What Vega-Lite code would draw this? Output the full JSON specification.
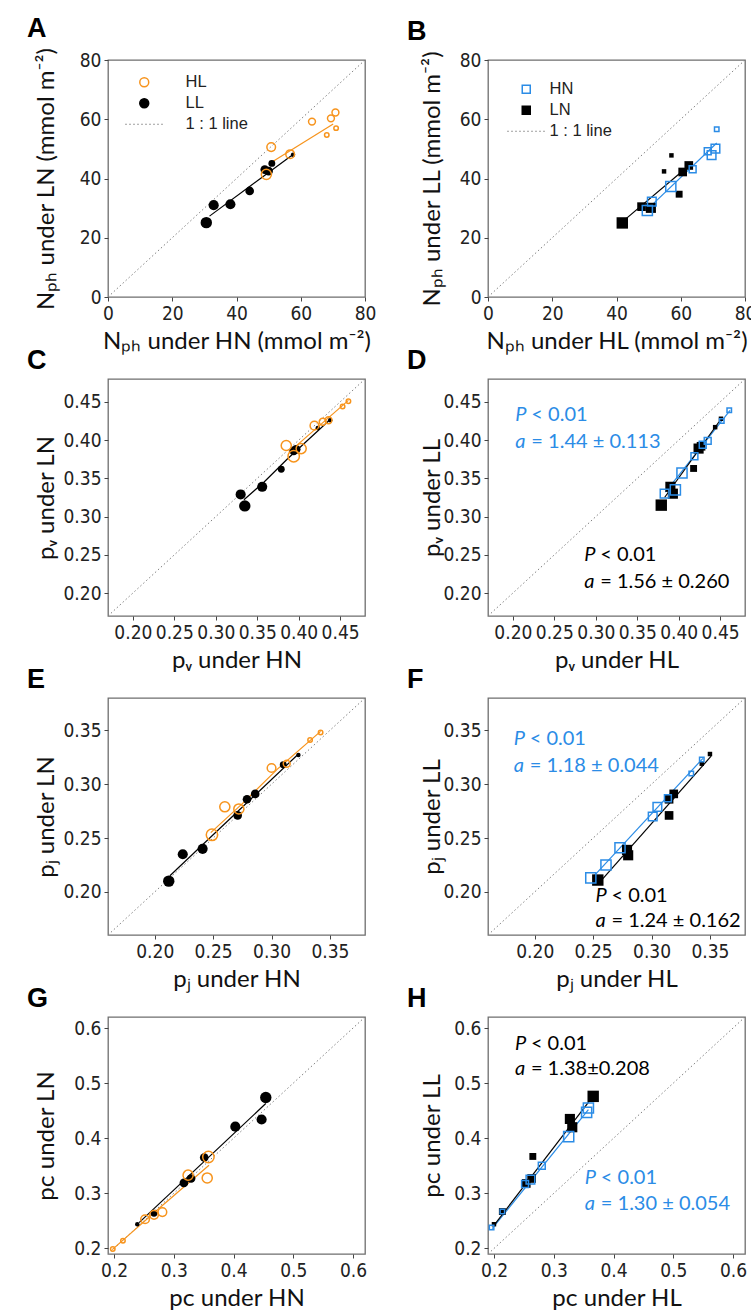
{
"$schema": "https://vega.github.io/schema/vega-lite/v6.json",
"background": "white",
"padding": {"left": 26, "top": 14, "right": 0, "bottom": 0},
"datasets": {
"pts": [
{"p":"A","g":"HL","x":70.8,"y":62.3,"s":2},{"p":"A","g":"HL","x":69.4,"y":60.3,"s":2},{"p":"A","g":"HL","x":63.5,"y":59.2,"s":2},{"p":"A","g":"HL","x":71.0,"y":57.0,"s":1},{"p":"A","g":"HL","x":68.1,"y":54.7,"s":1},{"p":"A","g":"HL","x":50.8,"y":50.6,"s":3},{"p":"A","g":"HL","x":56.7,"y":48.2,"s":3},{"p":"A","g":"HL","x":49.3,"y":41.4,"s":4},
{"p":"A","g":"LL","x":57.6,"y":48.0,"s":1},{"p":"A","g":"LL","x":51.0,"y":45.1,"s":2},{"p":"A","g":"LL","x":48.8,"y":43.0,"s":3},{"p":"A","g":"LL","x":50.0,"y":42.5,"s":3},{"p":"A","g":"LL","x":44.1,"y":35.8,"s":3},{"p":"A","g":"LL","x":38.1,"y":31.3,"s":4},{"p":"A","g":"LL","x":32.9,"y":31.0,"s":4},{"p":"A","g":"LL","x":30.6,"y":25.1,"s":5},
{"p":"B","g":"HN","x":71.2,"y":56.6,"s":1},{"p":"B","g":"HN","x":70.8,"y":50.1,"s":3},{"p":"B","g":"HN","x":69.6,"y":47.9,"s":3},{"p":"B","g":"HN","x":68.4,"y":49.2,"s":2},{"p":"B","g":"HN","x":63.7,"y":43.1,"s":2},{"p":"B","g":"HN","x":56.9,"y":37.3,"s":4},{"p":"B","g":"HN","x":51.0,"y":32.2,"s":3},{"p":"B","g":"HN","x":49.6,"y":29.2,"s":4},
{"p":"B","g":"LN","x":57.1,"y":47.8,"s":1},{"p":"B","g":"LN","x":54.8,"y":42.4,"s":1},{"p":"B","g":"LN","x":62.5,"y":44.4,"s":3},{"p":"B","g":"LN","x":60.6,"y":42.2,"s":3},{"p":"B","g":"LN","x":59.5,"y":34.7,"s":2},{"p":"B","g":"LN","x":47.8,"y":30.5,"s":3},{"p":"B","g":"LN","x":50.7,"y":30.1,"s":4},{"p":"B","g":"LN","x":41.8,"y":25.0,"s":5},
{"p":"C","g":"HL","x":0.460,"y":0.451,"s":1},{"p":"C","g":"HL","x":0.453,"y":0.444,"s":1},{"p":"C","g":"HL","x":0.436,"y":0.426,"s":2},{"p":"C","g":"HL","x":0.429,"y":0.424,"s":2},{"p":"C","g":"HL","x":0.419,"y":0.419,"s":3},{"p":"C","g":"HL","x":0.385,"y":0.393,"s":4},{"p":"C","g":"HL","x":0.403,"y":0.389,"s":4},{"p":"C","g":"HL","x":0.394,"y":0.379,"s":5},
{"p":"C","g":"LL","x":0.438,"y":0.426,"s":1},{"p":"C","g":"LL","x":0.423,"y":0.416,"s":1},{"p":"C","g":"LL","x":0.397,"y":0.388,"s":3},{"p":"C","g":"LL","x":0.394,"y":0.386,"s":3},{"p":"C","g":"LL","x":0.379,"y":0.362,"s":2},{"p":"C","g":"LL","x":0.356,"y":0.339,"s":4},{"p":"C","g":"LL","x":0.330,"y":0.329,"s":4},{"p":"C","g":"LL","x":0.335,"y":0.314,"s":5},
{"p":"D","g":"HN","x":0.461,"y":0.439,"s":1},{"p":"D","g":"HN","x":0.452,"y":0.425,"s":1},{"p":"D","g":"HN","x":0.435,"y":0.399,"s":2},{"p":"D","g":"HN","x":0.429,"y":0.394,"s":2},{"p":"D","g":"HN","x":0.419,"y":0.379,"s":2},{"p":"D","g":"HN","x":0.404,"y":0.357,"s":4},{"p":"D","g":"HN","x":0.396,"y":0.335,"s":4},{"p":"D","g":"HN","x":0.383,"y":0.330,"s":3},
{"p":"D","g":"LN","x":0.451,"y":0.428,"s":1},{"p":"D","g":"LN","x":0.444,"y":0.417,"s":1},{"p":"D","g":"LN","x":0.424,"y":0.389,"s":4},{"p":"D","g":"LN","x":0.427,"y":0.392,"s":3},{"p":"D","g":"LN","x":0.418,"y":0.363,"s":2},{"p":"D","g":"LN","x":0.390,"y":0.339,"s":4},{"p":"D","g":"LN","x":0.393,"y":0.330,"s":4},{"p":"D","g":"LN","x":0.379,"y":0.315,"s":5},
{"p":"E","g":"HL","x":0.342,"y":0.348,"s":1},{"p":"E","g":"HL","x":0.333,"y":0.341,"s":1},{"p":"E","g":"HL","x":0.313,"y":0.319,"s":2},{"p":"E","g":"HL","x":0.300,"y":0.315,"s":3},{"p":"E","g":"HL","x":0.260,"y":0.279,"s":4},{"p":"E","g":"HL","x":0.272,"y":0.277,"s":4},{"p":"E","g":"HL","x":0.249,"y":0.253,"s":5},
{"p":"E","g":"LL","x":0.323,"y":0.327,"s":1},{"p":"E","g":"LL","x":0.310,"y":0.318,"s":2},{"p":"E","g":"LL","x":0.286,"y":0.291,"s":3},{"p":"E","g":"LL","x":0.279,"y":0.286,"s":3},{"p":"E","g":"LL","x":0.271,"y":0.271,"s":3},{"p":"E","g":"LL","x":0.241,"y":0.240,"s":4},{"p":"E","g":"LL","x":0.224,"y":0.235,"s":4},{"p":"E","g":"LL","x":0.212,"y":0.210,"s":5},
{"p":"F","g":"HN","x":0.343,"y":0.323,"s":1},{"p":"F","g":"HN","x":0.334,"y":0.310,"s":1},{"p":"F","g":"HN","x":0.314,"y":0.287,"s":2},{"p":"F","g":"HN","x":0.305,"y":0.279,"s":3},{"p":"F","g":"HN","x":0.301,"y":0.270,"s":3},{"p":"F","g":"HN","x":0.273,"y":0.241,"s":4},{"p":"F","g":"HN","x":0.261,"y":0.225,"s":4},{"p":"F","g":"HN","x":0.248,"y":0.213,"s":4},
{"p":"F","g":"LN","x":0.350,"y":0.328,"s":1},{"p":"F","g":"LN","x":0.343,"y":0.319,"s":1},{"p":"F","g":"LN","x":0.319,"y":0.291,"s":3},{"p":"F","g":"LN","x":0.315,"y":0.286,"s":3},{"p":"F","g":"LN","x":0.315,"y":0.271,"s":3},{"p":"F","g":"LN","x":0.279,"y":0.239,"s":4},{"p":"F","g":"LN","x":0.280,"y":0.234,"s":4},{"p":"F","g":"LN","x":0.254,"y":0.211,"s":5},
{"p":"G","g":"HL","x":0.198,"y":0.199,"s":1},{"p":"G","g":"HL","x":0.215,"y":0.214,"s":1},{"p":"G","g":"HL","x":0.252,"y":0.253,"s":3},{"p":"G","g":"HL","x":0.267,"y":0.261,"s":3},{"p":"G","g":"HL","x":0.281,"y":0.266,"s":3},{"p":"G","g":"HL","x":0.324,"y":0.333,"s":4},{"p":"G","g":"HL","x":0.356,"y":0.328,"s":4},{"p":"G","g":"HL","x":0.358,"y":0.366,"s":5},
{"p":"G","g":"LL","x":0.239,"y":0.244,"s":1},{"p":"G","g":"LL","x":0.267,"y":0.264,"s":2},{"p":"G","g":"LL","x":0.317,"y":0.319,"s":3},{"p":"G","g":"LL","x":0.329,"y":0.327,"s":3},{"p":"G","g":"LL","x":0.351,"y":0.365,"s":3},{"p":"G","g":"LL","x":0.403,"y":0.421,"s":4},{"p":"G","g":"LL","x":0.447,"y":0.434,"s":4},{"p":"G","g":"LL","x":0.454,"y":0.474,"s":5},
{"p":"H","g":"HN","x":0.196,"y":0.238,"s":1},{"p":"H","g":"HN","x":0.214,"y":0.267,"s":1},{"p":"H","g":"HN","x":0.252,"y":0.317,"s":2},{"p":"H","g":"HN","x":0.261,"y":0.325,"s":3},{"p":"H","g":"HN","x":0.280,"y":0.350,"s":2},{"p":"H","g":"HN","x":0.325,"y":0.403,"s":4},{"p":"H","g":"HN","x":0.355,"y":0.447,"s":4},{"p":"H","g":"HN","x":0.358,"y":0.455,"s":4},
{"p":"H","g":"LN","x":0.200,"y":0.244,"s":1},{"p":"H","g":"LN","x":0.214,"y":0.267,"s":2},{"p":"H","g":"LN","x":0.254,"y":0.318,"s":3},{"p":"H","g":"LN","x":0.263,"y":0.327,"s":3},{"p":"H","g":"LN","x":0.265,"y":0.367,"s":2},{"p":"H","g":"LN","x":0.327,"y":0.435,"s":4},{"p":"H","g":"LN","x":0.331,"y":0.420,"s":4},{"p":"H","g":"LN","x":0.366,"y":0.476,"s":5}
],
"fits": [
{"p":"A","g":"HL","x":50.8,"y":45.4},{"p":"A","g":"HL","x":70.1,"y":58.4},
{"p":"A","g":"LL","x":31.6,"y":27.3},{"p":"A","g":"LL","x":57.6,"y":48.1},
{"p":"B","g":"HN","x":49.6,"y":29.6},{"p":"B","g":"HN","x":71.2,"y":52.0},
{"p":"B","g":"LN","x":42.8,"y":26.3},{"p":"B","g":"LN","x":62.7,"y":44.5},
{"p":"C","g":"HL","x":0.388,"y":0.384},{"p":"C","g":"HL","x":0.460,"y":0.452},
{"p":"C","g":"LL","x":0.334,"y":0.322},{"p":"C","g":"LL","x":0.358,"y":0.345},{"p":"C","g":"LL","x":0.386,"y":0.375},{"p":"C","g":"LL","x":0.438,"y":0.427},
{"p":"D","g":"HN","x":0.384,"y":0.332},{"p":"D","g":"HN","x":0.462,"y":0.439},
{"p":"D","g":"LN","x":0.383,"y":0.325},{"p":"D","g":"LN","x":0.452,"y":0.429},
{"p":"E","g":"HL","x":0.248,"y":0.255},{"p":"E","g":"HL","x":0.275,"y":0.282},{"p":"E","g":"HL","x":0.305,"y":0.314},{"p":"E","g":"HL","x":0.342,"y":0.349},
{"p":"E","g":"LL","x":0.213,"y":0.215},{"p":"E","g":"LL","x":0.323,"y":0.328},
{"p":"F","g":"HN","x":0.250,"y":0.214},{"p":"F","g":"HN","x":0.344,"y":0.324},
{"p":"F","g":"LN","x":0.254,"y":0.207},{"p":"F","g":"LN","x":0.351,"y":0.326},
{"p":"G","g":"HL","x":0.197,"y":0.198},{"p":"G","g":"HL","x":0.281,"y":0.278},{"p":"G","g":"HL","x":0.359,"y":0.351},
{"p":"G","g":"LL","x":0.242,"y":0.247},{"p":"G","g":"LL","x":0.454,"y":0.463},
{"p":"H","g":"HN","x":0.197,"y":0.236},{"p":"H","g":"HN","x":0.358,"y":0.452},
{"p":"H","g":"LN","x":0.200,"y":0.242},{"p":"H","g":"LN","x":0.365,"y":0.475}
],
"diag": [
{"p":"A","x":0,"y":0},{"p":"A","x":80,"y":80},
{"p":"B","x":0,"y":0},{"p":"B","x":80,"y":80},
{"p":"C","x":0.17,"y":0.17},{"p":"C","x":0.48,"y":0.48},
{"p":"D","x":0.17,"y":0.17},{"p":"D","x":0.48,"y":0.48},
{"p":"E","x":0.16,"y":0.16},{"p":"E","x":0.38,"y":0.38},
{"p":"F","x":0.16,"y":0.16},{"p":"F","x":0.38,"y":0.38},
{"p":"G","x":0.19,"y":0.19},{"p":"G","x":0.62,"y":0.62},
{"p":"H","x":0.19,"y":0.19},{"p":"H","x":0.62,"y":0.62}
],
"ann": [
{"p":"D","g":"HN","x":0.203,"y":0.433,"lead":"P","rest":"< 0.01"},
{"p":"D","g":"HN","x":0.203,"y":0.398,"lead":"a","rest":"= 1.44 ± 0.113"},
{"p":"D","g":"LN","x":0.286,"y":0.250,"lead":"P","rest":"< 0.01"},
{"p":"D","g":"LN","x":0.286,"y":0.214,"lead":"a","rest":"= 1.56 ± 0.260"},
{"p":"F","g":"HN","x":0.182,"y":0.342,"lead":"P","rest":"< 0.01"},
{"p":"F","g":"HN","x":0.182,"y":0.317,"lead":"a","rest":"= 1.18 ± 0.044"},
{"p":"F","g":"LN","x":0.252,"y":0.196,"lead":"P","rest":"< 0.01"},
{"p":"F","g":"LN","x":0.252,"y":0.173,"lead":"a","rest":"= 1.24 ± 0.162"},
{"p":"H","g":"LN","x":0.235,"y":0.571,"lead":"P","rest":"< 0.01"},
{"p":"H","g":"LN","x":0.235,"y":0.526,"lead":"a","rest":"= 1.38±0.208"},
{"p":"H","g":"HN","x":0.352,"y":0.328,"lead":"P","rest":"< 0.01"},
{"p":"H","g":"HN","x":0.352,"y":0.281,"lead":"a","rest":"= 1.30 ± 0.054"}
]
},
"columns": 2,
"spacing": {"row": -8, "column": 29},
"resolve": {"scale": {"x": "independent", "y": "independent", "color": "independent", "size": "independent"}},
"concat": [
{
"title": "A", "width": 257, "height": 237,
"encoding": {
"x": {"field":"x","type":"quantitative","scale":{"domain":[0,80],"nice":false,"zero":false},"axis":{"values":[0,20,40,60,80],"title":"Nₚₕ under HN (mmol m⁻²)"}},
"y": {"field":"y","type":"quantitative","scale":{"domain":[0,80],"nice":false,"zero":false},"axis":{"values":[0,20,40,60,80],"title":"Nₚₕ under LN (mmol m⁻²)","titleX":-50}},
"color": {"field":"g","type":"nominal","scale":{"domain":["HL","LL","1 : 1 line"],"range":["#F7941D","#000000","#808080"]},
"legend":{"title":null,"orient":"none","legendX":28,"legendY":14,"padding":0,"symbolSize":80,"symbolType":"circle","labelFont":"Liberation Sans","labelFontSize":16.5,"labelColor":"#222222","labelOffset":33,"rowPadding":4,
"encode":{"symbols":{"update":{
"shape":{"signal":"datum.value === '1 : 1 line' ? 'stroke' : 'circle'"},
"size":{"signal":"datum.value === '1 : 1 line' ? 1444 : 80"},
"fill":{"signal":"datum.value === 'LL' ? '#000000' : 'transparent'"},
"fillOpacity":{"signal":"datum.value === 'LL' ? 1 : 0"},
"stroke":{"signal":"datum.value === 'HL' ? '#F7941D' : (datum.value === 'LL' ? '#000000' : '#808080')"},
"strokeOpacity":{"value":1},
"strokeWidth":{"signal":"datum.value === '1 : 1 line' ? 1 : 1.5"},
"strokeDash":{"signal":"datum.value === '1 : 1 line' ? [1.5, 2.5] : []"},
"opacity":{"value":1}}}}}}
},
"layer": [
{"data":{"name":"diag"},"transform":[{"filter":"datum.p === 'A'"}],"mark":{"type":"line","strokeDash":[1.5,2.5],"strokeWidth":1,"clip":true},"encoding":{"color":{"datum":"1 : 1 line","type":"nominal"}}},
{"data":{"name":"fits"},"transform":[{"filter":"datum.p === 'A'"}],"mark":{"type":"line","strokeWidth":1.2}},
{"data":{"name":"pts"},"transform":[{"filter":"datum.p === 'A' && datum.g === 'LL'"}],"mark":{"type":"point","shape":"circle","filled":true,"opacity":1},"encoding":{"size":{"field":"s","type":"quantitative","scale":{"domain":[1,5],"range":[20,130]},"legend":null}}},
{"data":{"name":"pts"},"transform":[{"filter":"datum.p === 'A' && datum.g === 'HL'"}],"mark":{"type":"point","shape":"circle","filled":false,"strokeWidth":1.5,"opacity":1},"encoding":{"size":{"field":"s","type":"quantitative","scale":{"domain":[1,5],"range":[20,130]},"legend":null}}}
]
},
{
"title": "B", "width": 257, "height": 237,
"encoding": {
"x": {"field":"x","type":"quantitative","scale":{"domain":[0,80],"nice":false,"zero":false},"axis":{"values":[0,20,40,60,80],"title":"Nₚₕ under HL (mmol m⁻²)"}},
"y": {"field":"y","type":"quantitative","scale":{"domain":[0,80],"nice":false,"zero":false},"axis":{"values":[0,20,40,60,80],"title":"Nₚₕ under LL (mmol m⁻²)","titleX":-44}},
"color": {"field":"g","type":"nominal","scale":{"domain":["HN","LN","1 : 1 line"],"range":["#2B8CE6","#000000","#808080"]},
"legend":{"title":null,"orient":"none","legendX":30,"legendY":21,"padding":0,"symbolSize":80,"symbolType":"square","labelFont":"Liberation Sans","labelFontSize":16.5,"labelColor":"#222222","labelOffset":15,"rowPadding":4,
"encode":{"symbols":{"update":{
"shape":{"signal":"datum.value === '1 : 1 line' ? 'stroke' : 'square'"},
"size":{"signal":"datum.value === '1 : 1 line' ? 1444 : 64"},
"fill":{"signal":"datum.value === 'LN' ? '#000000' : 'transparent'"},
"fillOpacity":{"signal":"datum.value === 'LN' ? 1 : 0"},
"stroke":{"signal":"datum.value === 'HN' ? '#2B8CE6' : (datum.value === 'LN' ? '#000000' : '#808080')"},
"strokeOpacity":{"value":1},
"strokeWidth":{"signal":"datum.value === '1 : 1 line' ? 1 : 1.5"},
"strokeDash":{"signal":"datum.value === '1 : 1 line' ? [1.5, 2.5] : []"},
"opacity":{"value":1}}}}}}
},
"layer": [
{"data":{"name":"diag"},"transform":[{"filter":"datum.p === 'B'"}],"mark":{"type":"line","strokeDash":[1.5,2.5],"strokeWidth":1,"clip":true},"encoding":{"color":{"datum":"1 : 1 line","type":"nominal"}}},
{"data":{"name":"fits"},"transform":[{"filter":"datum.p === 'B'"}],"mark":{"type":"line","strokeWidth":1.2}},
{"data":{"name":"pts"},"transform":[{"filter":"datum.p === 'B' && datum.g === 'LN'"}],"mark":{"type":"point","shape":"square","filled":true,"opacity":1},"encoding":{"size":{"field":"s","type":"quantitative","scale":{"domain":[1,5],"range":[20,130]},"legend":null}}},
{"data":{"name":"pts"},"transform":[{"filter":"datum.p === 'B' && datum.g === 'HN'"}],"mark":{"type":"point","shape":"square","filled":false,"strokeWidth":1.5,"opacity":1},"encoding":{"size":{"field":"s","type":"quantitative","scale":{"domain":[1,5],"range":[20,130]},"legend":null}}}
]
},
{
"title": "C", "width": 257, "height": 237,
"encoding": {
"x": {"field":"x","type":"quantitative","scale":{"domain":[0.17,0.48],"nice":false,"zero":false},"axis":{"values":[0.2,0.25,0.3,0.35,0.4,0.45],"format":".2f","title":"pᵥ under HN"}},
"y": {"field":"y","type":"quantitative","scale":{"domain":[0.17,0.48],"nice":false,"zero":false},"axis":{"values":[0.2,0.25,0.3,0.35,0.4,0.45],"format":".2f","title":"pᵥ under LN","titleX":-50}}
},
"layer": [
{"data":{"name":"diag"},"transform":[{"filter":"datum.p === 'C'"}],"mark":{"type":"line","color":"#808080","strokeDash":[1.5,2.5],"strokeWidth":1,"clip":true},"encoding":{}},
{"data":{"name":"fits"},"transform":[{"filter":"datum.p === 'C'"}],"mark":{"type":"line","strokeWidth":1.2},"encoding":{"color":{"field":"g","type":"nominal","scale":{"domain":["HL","LL"],"range":["#F7941D","#000000"]},"legend":null}}},
{"data":{"name":"pts"},"transform":[{"filter":"datum.p === 'C' && datum.g === 'LL'"}],"mark":{"type":"point","shape":"circle","filled":true,"opacity":1},"encoding":{"color":{"field":"g","type":"nominal","legend":null},"size":{"field":"s","type":"quantitative","scale":{"domain":[1,5],"range":[20,130]},"legend":null}}},
{"data":{"name":"pts"},"transform":[{"filter":"datum.p === 'C' && datum.g === 'HL'"}],"mark":{"type":"point","shape":"circle","filled":false,"strokeWidth":1.5,"opacity":1},"encoding":{"color":{"field":"g","type":"nominal","legend":null},"size":{"field":"s","type":"quantitative","scale":{"domain":[1,5],"range":[20,130]},"legend":null}}}
]
},
{
"title": "D", "width": 257, "height": 237,
"encoding": {
"x": {"field":"x","type":"quantitative","scale":{"domain":[0.17,0.48],"nice":false,"zero":false},"axis":{"values":[0.2,0.25,0.3,0.35,0.4,0.45],"format":".2f","title":"pᵥ under HL"}},
"y": {"field":"y","type":"quantitative","scale":{"domain":[0.17,0.48],"nice":false,"zero":false},"axis":{"values":[0.2,0.25,0.3,0.35,0.4,0.45],"format":".2f","title":"pᵥ under LL","titleX":-44}}
},
"layer": [
{"data":{"name":"diag"},"transform":[{"filter":"datum.p === 'D'"}],"mark":{"type":"line","color":"#808080","strokeDash":[1.5,2.5],"strokeWidth":1,"clip":true},"encoding":{}},
{"data":{"name":"fits"},"transform":[{"filter":"datum.p === 'D'"}],"mark":{"type":"line","strokeWidth":1.2},"encoding":{"color":{"field":"g","type":"nominal","scale":{"domain":["HN","LN"],"range":["#2B8CE6","#000000"]},"legend":null}}},
{"data":{"name":"pts"},"transform":[{"filter":"datum.p === 'D' && datum.g === 'LN'"}],"mark":{"type":"point","shape":"square","filled":true,"opacity":1},"encoding":{"color":{"field":"g","type":"nominal","legend":null},"size":{"field":"s","type":"quantitative","scale":{"domain":[1,5],"range":[20,130]},"legend":null}}},
{"data":{"name":"pts"},"transform":[{"filter":"datum.p === 'D' && datum.g === 'HN'"}],"mark":{"type":"point","shape":"square","filled":false,"strokeWidth":1.5,"opacity":1},"encoding":{"color":{"field":"g","type":"nominal","legend":null},"size":{"field":"s","type":"quantitative","scale":{"domain":[1,5],"range":[20,130]},"legend":null}}},
{"data":{"name":"ann"},"transform":[{"filter":"datum.p === 'D'"}],"mark":{"type":"text","align":"left","baseline":"middle","font":"Lato","fontSize":20,"fontStyle":"italic"},"encoding":{"text":{"field":"lead"},"color":{"field":"g","type":"nominal","legend":null}}},
{"data":{"name":"ann"},"transform":[{"filter":"datum.p === 'D'"}],"mark":{"type":"text","align":"left","baseline":"middle","font":"Lato","fontSize":20,"dx":16},"encoding":{"text":{"field":"rest"},"color":{"field":"g","type":"nominal","legend":null}}}
]
},
{
"title": "E", "width": 257, "height": 237,
"encoding": {
"x": {"field":"x","type":"quantitative","scale":{"domain":[0.16,0.38],"nice":false,"zero":false},"axis":{"values":[0.2,0.25,0.3,0.35],"format":".2f","title":"pⱼ under HN"}},
"y": {"field":"y","type":"quantitative","scale":{"domain":[0.16,0.38],"nice":false,"zero":false},"axis":{"values":[0.2,0.25,0.3,0.35],"format":".2f","title":"pⱼ under LN","titleX":-50}}
},
"layer": [
{"data":{"name":"diag"},"transform":[{"filter":"datum.p === 'E'"}],"mark":{"type":"line","color":"#808080","strokeDash":[1.5,2.5],"strokeWidth":1,"clip":true},"encoding":{}},
{"data":{"name":"fits"},"transform":[{"filter":"datum.p === 'E'"}],"mark":{"type":"line","strokeWidth":1.2},"encoding":{"color":{"field":"g","type":"nominal","scale":{"domain":["HL","LL"],"range":["#F7941D","#000000"]},"legend":null}}},
{"data":{"name":"pts"},"transform":[{"filter":"datum.p === 'E' && datum.g === 'LL'"}],"mark":{"type":"point","shape":"circle","filled":true,"opacity":1},"encoding":{"color":{"field":"g","type":"nominal","legend":null},"size":{"field":"s","type":"quantitative","scale":{"domain":[1,5],"range":[20,130]},"legend":null}}},
{"data":{"name":"pts"},"transform":[{"filter":"datum.p === 'E' && datum.g === 'HL'"}],"mark":{"type":"point","shape":"circle","filled":false,"strokeWidth":1.5,"opacity":1},"encoding":{"color":{"field":"g","type":"nominal","legend":null},"size":{"field":"s","type":"quantitative","scale":{"domain":[1,5],"range":[20,130]},"legend":null}}}
]
},
{
"title": "F", "width": 257, "height": 237,
"encoding": {
"x": {"field":"x","type":"quantitative","scale":{"domain":[0.16,0.38],"nice":false,"zero":false},"axis":{"values":[0.2,0.25,0.3,0.35],"format":".2f","title":"pⱼ under HL"}},
"y": {"field":"y","type":"quantitative","scale":{"domain":[0.16,0.38],"nice":false,"zero":false},"axis":{"values":[0.2,0.25,0.3,0.35],"format":".2f","title":"pⱼ under LL","titleX":-44}}
},
"layer": [
{"data":{"name":"diag"},"transform":[{"filter":"datum.p === 'F'"}],"mark":{"type":"line","color":"#808080","strokeDash":[1.5,2.5],"strokeWidth":1,"clip":true},"encoding":{}},
{"data":{"name":"fits"},"transform":[{"filter":"datum.p === 'F'"}],"mark":{"type":"line","strokeWidth":1.2},"encoding":{"color":{"field":"g","type":"nominal","scale":{"domain":["HN","LN"],"range":["#2B8CE6","#000000"]},"legend":null}}},
{"data":{"name":"pts"},"transform":[{"filter":"datum.p === 'F' && datum.g === 'LN'"}],"mark":{"type":"point","shape":"square","filled":true,"opacity":1},"encoding":{"color":{"field":"g","type":"nominal","legend":null},"size":{"field":"s","type":"quantitative","scale":{"domain":[1,5],"range":[20,130]},"legend":null}}},
{"data":{"name":"pts"},"transform":[{"filter":"datum.p === 'F' && datum.g === 'HN'"}],"mark":{"type":"point","shape":"square","filled":false,"strokeWidth":1.5,"opacity":1},"encoding":{"color":{"field":"g","type":"nominal","legend":null},"size":{"field":"s","type":"quantitative","scale":{"domain":[1,5],"range":[20,130]},"legend":null}}},
{"data":{"name":"ann"},"transform":[{"filter":"datum.p === 'F'"}],"mark":{"type":"text","align":"left","baseline":"middle","font":"Lato","fontSize":20,"fontStyle":"italic"},"encoding":{"text":{"field":"lead"},"color":{"field":"g","type":"nominal","legend":null}}},
{"data":{"name":"ann"},"transform":[{"filter":"datum.p === 'F'"}],"mark":{"type":"text","align":"left","baseline":"middle","font":"Lato","fontSize":20,"dx":16},"encoding":{"text":{"field":"rest"},"color":{"field":"g","type":"nominal","legend":null}}}
]
},
{
"title": "G", "width": 257, "height": 237,
"encoding": {
"x": {"field":"x","type":"quantitative","scale":{"domain":[0.19,0.62],"nice":false,"zero":false},"axis":{"values":[0.2,0.3,0.4,0.5,0.6],"format":".1f","title":"pᴄ under HN"}},
"y": {"field":"y","type":"quantitative","scale":{"domain":[0.19,0.62],"nice":false,"zero":false},"axis":{"values":[0.2,0.3,0.4,0.5,0.6],"format":".1f","title":"pᴄ under LN","titleX":-50}}
},
"layer": [
{"data":{"name":"diag"},"transform":[{"filter":"datum.p === 'G'"}],"mark":{"type":"line","color":"#808080","strokeDash":[1.5,2.5],"strokeWidth":1,"clip":true},"encoding":{}},
{"data":{"name":"fits"},"transform":[{"filter":"datum.p === 'G'"}],"mark":{"type":"line","strokeWidth":1.2},"encoding":{"color":{"field":"g","type":"nominal","scale":{"domain":["HL","LL"],"range":["#F7941D","#000000"]},"legend":null}}},
{"data":{"name":"pts"},"transform":[{"filter":"datum.p === 'G' && datum.g === 'LL'"}],"mark":{"type":"point","shape":"circle","filled":true,"opacity":1},"encoding":{"color":{"field":"g","type":"nominal","legend":null},"size":{"field":"s","type":"quantitative","scale":{"domain":[1,5],"range":[20,130]},"legend":null}}},
{"data":{"name":"pts"},"transform":[{"filter":"datum.p === 'G' && datum.g === 'HL'"}],"mark":{"type":"point","shape":"circle","filled":false,"strokeWidth":1.5,"opacity":1},"encoding":{"color":{"field":"g","type":"nominal","legend":null},"size":{"field":"s","type":"quantitative","scale":{"domain":[1,5],"range":[20,130]},"legend":null}}}
]
},
{
"title": "H", "width": 257, "height": 237,
"encoding": {
"x": {"field":"x","type":"quantitative","scale":{"domain":[0.19,0.62],"nice":false,"zero":false},"axis":{"values":[0.2,0.3,0.4,0.5,0.6],"format":".1f","title":"pᴄ under HL"}},
"y": {"field":"y","type":"quantitative","scale":{"domain":[0.19,0.62],"nice":false,"zero":false},"axis":{"values":[0.2,0.3,0.4,0.5,0.6],"format":".1f","title":"pᴄ under LL","titleX":-44}}
},
"layer": [
{"data":{"name":"diag"},"transform":[{"filter":"datum.p === 'H'"}],"mark":{"type":"line","color":"#808080","strokeDash":[1.5,2.5],"strokeWidth":1,"clip":true},"encoding":{}},
{"data":{"name":"fits"},"transform":[{"filter":"datum.p === 'H'"}],"mark":{"type":"line","strokeWidth":1.2},"encoding":{"color":{"field":"g","type":"nominal","scale":{"domain":["HN","LN"],"range":["#2B8CE6","#000000"]},"legend":null}}},
{"data":{"name":"pts"},"transform":[{"filter":"datum.p === 'H' && datum.g === 'LN'"}],"mark":{"type":"point","shape":"square","filled":true,"opacity":1},"encoding":{"color":{"field":"g","type":"nominal","legend":null},"size":{"field":"s","type":"quantitative","scale":{"domain":[1,5],"range":[20,130]},"legend":null}}},
{"data":{"name":"pts"},"transform":[{"filter":"datum.p === 'H' && datum.g === 'HN'"}],"mark":{"type":"point","shape":"square","filled":false,"strokeWidth":1.5,"opacity":1},"encoding":{"color":{"field":"g","type":"nominal","legend":null},"size":{"field":"s","type":"quantitative","scale":{"domain":[1,5],"range":[20,130]},"legend":null}}},
{"data":{"name":"ann"},"transform":[{"filter":"datum.p === 'H'"}],"mark":{"type":"text","align":"left","baseline":"middle","font":"Lato","fontSize":20,"fontStyle":"italic"},"encoding":{"text":{"field":"lead"},"color":{"field":"g","type":"nominal","legend":null}}},
{"data":{"name":"ann"},"transform":[{"filter":"datum.p === 'H'"}],"mark":{"type":"text","align":"left","baseline":"middle","font":"Lato","fontSize":20,"dx":16},"encoding":{"text":{"field":"rest"},"color":{"field":"g","type":"nominal","legend":null}}}
]
}
],
"config": {
"view": {"stroke": "#6e6e6e", "strokeWidth": 1.3},
"axis": {"grid": false, "domain": false, "tickSize": 4, "tickColor": "#444444", "labelFont": "Liberation Sans Narrow, DejaVu Sans Condensed, sans-serif", "labelFontSize": 19, "labelColor": "#222222", "labelPadding": 3, "labelFlush": false, "labelOverlap": false, "titleFont": "Lato", "titleFontSize": 24, "titleFontWeight": "normal", "titleColor": "#111111"},
"axisX": {"titlePadding": 6},
"title": {"anchor": "start", "frame": "group", "font": "Liberation Sans", "fontSize": 27, "fontWeight": "bold", "color": "#000000", "dx": -81, "offset": 4, "baseline": "alphabetic"}
}
}
